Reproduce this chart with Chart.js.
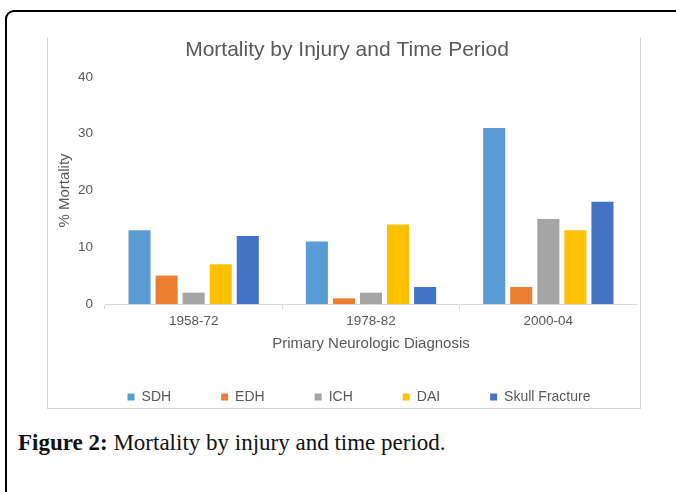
<!DOCTYPE html>
<html>
<head>
<meta charset="utf-8">
<script src="https://cdn.jsdelivr.net/npm/chart.js@4.4.1/dist/chart.umd.min.js"></script>
<style>
  html, body { margin: 0; padding: 0; background: #fff; width: 676px; height: 492px; overflow: hidden; }
  #outer { position: absolute; left: 5px; top: 10px; width: 720px; height: 540px; border: 2px solid #000; border-radius: 9px; box-sizing: border-box; }
  #box { position: absolute; left: 47px; top: 38px; width: 594px; height: 371px; border-left: 1px solid #d3d9d3; border-right: 1px solid #d3d9d3; border-bottom: 1px solid #d3d9d3; box-sizing: border-box; pointer-events: none; }
  #wrap { position: absolute; left: 48px; top: 39px; width: 589px; height: 375px; }
  #caption { position: absolute; left: 18px; top: 430px; font-family: "Liberation Serif", serif; font-size: 23px; line-height: 26px; color: #111; white-space: nowrap; }
  #caption b { font-weight: bold; }
</style>
</head>
<body>
<div id="outer"></div>
<div id="box"></div>
<div id="wrap"><canvas id="c" width="589" height="375"></canvas></div>
<div id="caption"><b>Figure 2:</b> Mortality by injury and time period.</div>
<script>
const chartTitle = "Mortality by Injury and Time Period";
const xTitle = "Primary Neurologic Diagnosis";
const yTitle = "% Mortality";
const categories = ["1958-72", "1978-82", "2000-04"];
const seriesNames = ["SDH", "EDH", "ICH", "DAI", "Skull Fracture"];
const sdh = [13, 11, 31];
const edh = [5, 1, 3];
const ich = [2, 2, 15];
const dai = [7, 14, 13];
const skullFracture = [12, 3, 18];
const seriesColors = ["#5B9BD5", "#ED7D31", "#A5A5A5", "#FFC000", "#4472C4"];
const yTicks = { min: 0, max: 40, step: 10 };

const FONT = "'Liberation Sans', Arial, sans-serif";
const TXT = "#595959";

const nudgeLegend = {
  id: 'nudgeLegend',
  afterLayout(chart, args, opts) {
    const lg = chart.legend;
    if (lg) { lg.left += opts.dx; lg.right += opts.dx; }
  }
};

const values = [sdh, edh, ich, dai, skullFracture];
const datasets = seriesNames.map((name, i) => ({
  label: name,
  data: values[i],
  backgroundColor: seriesColors[i],
  borderWidth: 0,
  categoryPercentage: 0.763,
  barPercentage: 0.815
}));

new Chart(document.getElementById('c'), {
  type: 'bar',
  data: { labels: categories, datasets },
  plugins: [nudgeLegend],
  options: {
    responsive: false,
    animation: false,
    devicePixelRatio: 1,
    layout: { padding: { left: 9, right: 0, top: 0, bottom: 0 } },
    plugins: {
      nudgeLegend: { dx: 12 },
      title: {
        display: true, text: chartTitle, color: TXT,
        font: { family: FONT, size: 21, weight: 'normal' },
        padding: { top: -1.6, bottom: 14.4 }
      },
      legend: {
        position: 'bottom',
        labels: {
          boxWidth: 7, boxHeight: 7, padding: 50, color: TXT,
          font: { family: FONT, size: 14 }
        }
      },
      tooltip: { enabled: false }
    },
    scales: {
      x: {
        grid: { display: true, drawOnChartArea: false, drawTicks: true, tickLength: 5, color: '#d9d9d9', offset: true },
        border: { display: true, color: '#d9d9d9', width: 1 },
        ticks: { color: TXT, font: { family: FONT, size: 13.5 }, padding: 4 },
        title: { display: true, text: xTitle, color: TXT, font: { family: FONT, size: 15 }, padding: { top: 0, bottom: -12.5 } },
        afterFit: s => { s.height = 36; }
      },
      y: {
        min: yTicks.min, max: yTicks.max,
        ticks: { stepSize: yTicks.step, color: TXT, font: { family: FONT, size: 13.5 }, padding: 12 },
        grid: { display: false, drawTicks: false },
        border: { display: false },
        title: { display: true, text: yTitle, color: TXT, font: { family: FONT, size: 15 }, padding: { top: -1, bottom: 0 } },
        afterFit: s => { s.width = 48; }
      }
    }
  }
});
</script>
</body>
</html>
